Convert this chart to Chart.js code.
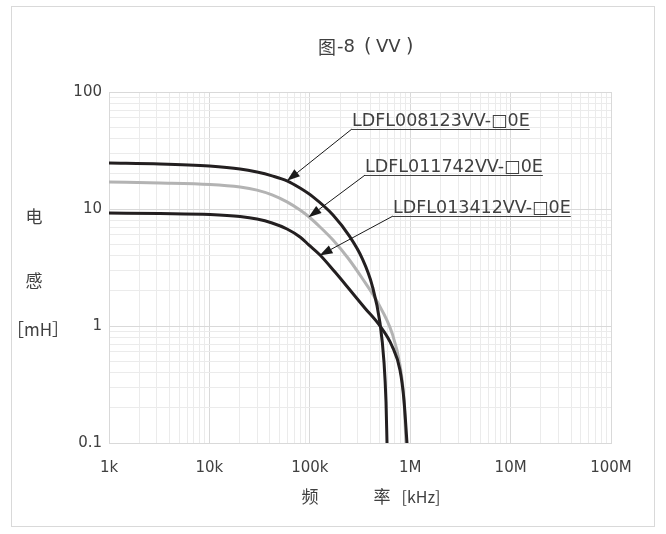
<!DOCTYPE html>
<html>
<head>
<meta charset="utf-8">
<script src="https://cdn.jsdelivr.net/npm/chart.js@4.4.1/dist/chart.umd.min.js"></script>
<style>
  html, body { margin: 0; padding: 0; background: #fff; }
  #wrap { width: 666px; height: 534px; position: relative; }
</style>
</head>
<body>
<div id="wrap"><canvas id="chart" width="666" height="534"></canvas></div>
<script>
// decade ticks
const freqDecades = [1e3, 1e4, 1e5, 1e6, 1e7, 1e8];
const freqLabels = ["1k", "10k", "100k", "1M", "10M", "100M"];
const indDecades = [0.1, 1, 10, 100];
const indLabels = ["0.1", "1", "10", "100"];

// LDFL008123VV
const freqA = [1000, 3220, 10000, 20200, 29800, 42100, 59300, 79900, 107600, 170300, 251300, 331300, 416900, 500300, 548300, 574200, 587500];
const indA = [24.7, 24.3, 23.3, 22.0, 20.7, 19.2, 17.4, 15.1, 12.7, 8.89, 5.77, 3.81, 2.24, 1.06, 0.492, 0.224, 0.1];
// LDFL011742VV
const freqB = [1000, 3220, 10140, 20200, 29800, 42100, 59300, 79900, 95900, 126400, 170300, 239900, 331300, 477800, 659000, 790700, 867000, 907800];
const indB = [17.0, 16.7, 16.2, 15.4, 14.5, 13.2, 11.5, 9.8, 8.71, 7.02, 5.43, 3.81, 2.57, 1.57, 0.871, 0.464, 0.233, 0.1];
// LDFL013412VV
const freqC = [1000, 3220, 10140, 20200, 29800, 42100, 59300, 79900, 98200, 126400, 178300, 251300, 354800, 500300, 659000, 790700, 867000, 929000];
const indC = [9.24, 9.15, 8.98, 8.63, 8.21, 7.59, 6.75, 5.77, 4.92, 4.05, 2.89, 2.03, 1.42, 1.0, 0.675, 0.42, 0.233, 0.1];

const seriesNames = ["LDFL008123VV-\u25A10E", "LDFL011742VV-\u25A10E", "LDFL013412VV-\u25A10E"];
// callouts: label anchor (freq, L) and arrow tip (freq, L)
const calloutFrom = [[263000, 48.3], [355000, 19.5], [674000, 8.71]];
const calloutTip = [[59300, 17.4], [97000, 8.5], [125000, 4.0]];

const textColor = "#404040";
const tickColor = "#404040";

function pts(xs, ys) {
  return xs.map((x, i) => ({ x: x, y: ys[i] }));
}

function minorTicks(decades) {
  const out = [];
  for (let i = 0; i < decades.length; i++) {
    const d = decades[i];
    if (i === decades.length - 1) { out.push({ value: d }); break; }
    for (let m = 1; m <= 9; m++) out.push({ value: +(m * d).toPrecision(6) });
  }
  return out;
}

function isDecade(v, decades) {
  return decades.some((d) => Math.abs(d - v) / d < 1e-6);
}

const decorPlugin = {
  id: "decor",
  beforeDraw(chart) {
    const ctx = chart.ctx;
    ctx.save();
    ctx.fillStyle = "#fff";
    ctx.fillRect(0, 0, chart.width, chart.height);
    ctx.strokeStyle = "#d9d9d9";
    ctx.lineWidth = 1;
    ctx.strokeRect(11.5, 6.5, 643, 520);
    ctx.restore();
  },
  afterDraw(chart) {
    const ctx = chart.ctx;
    const xs = chart.scales.x;
    const ys = chart.scales.y;
    ctx.save();
    // title, drawn piece by piece to get the wide brackets
    ctx.fillStyle = textColor;
    ctx.textBaseline = "middle";
    ctx.textAlign = "left";
    ctx.font = '18px "Noto Sans CJK SC", sans-serif';
    ctx.fillText("图", 318, 47);
    ctx.font = '18px "DejaVu Sans", sans-serif';
    ctx.fillText("-8", 337, 47);
    ctx.font = '19px "DejaVu Sans", sans-serif';
    ctx.fillText("(", 364, 47);
    ctx.font = '18px "DejaVu Sans", sans-serif';
    ctx.fillText("VV", 376, 47);
    ctx.font = '19px "DejaVu Sans", sans-serif';
    ctx.fillText(")", 406, 47);
    // axis titles
    ctx.textAlign = "center";
    ctx.font = '17px "Noto Sans CJK SC", sans-serif';
    ctx.fillText("电", 34, 217);
    ctx.fillText("感", 34, 281);
    ctx.fillText("［mH］", 38, 330);
    ctx.fillText("频", 310, 497);
    ctx.fillText("率", 382, 497);
    ctx.font = '16px "Noto Sans CJK SC", sans-serif';
    ctx.fillText("[kHz]", 421, 497);

    // callouts
    ctx.font = '17.5px "DejaVu Sans", sans-serif';
    ctx.textAlign = "left";
    ctx.textBaseline = "alphabetic";
    for (let i = 0; i < seriesNames.length; i++) {
      const fx = xs.getPixelForValue(calloutFrom[i][0]);
      const fy = ys.getPixelForValue(calloutFrom[i][1]);
      const tx = xs.getPixelForValue(calloutTip[i][0]);
      const ty = ys.getPixelForValue(calloutTip[i][1]);
      const w = ctx.measureText(seriesNames[i]).width;
      ctx.fillStyle = textColor;
      ctx.fillText(seriesNames[i], fx, fy - 3);
      ctx.strokeStyle = textColor;
      ctx.lineWidth = 1;
      ctx.beginPath();
      ctx.moveTo(fx, Math.round(fy) + 0.5);
      ctx.lineTo(fx + w, Math.round(fy) + 0.5);
      ctx.stroke();
      // arrow
      const ang = Math.atan2(ty - fy, tx - fx);
      const hl = 13, hw = 4.5;
      const bx = tx - hl * Math.cos(ang), by = ty - hl * Math.sin(ang);
      ctx.strokeStyle = "#1a1a1a";
      ctx.beginPath();
      ctx.moveTo(fx, fy);
      ctx.lineTo(bx, by);
      ctx.stroke();
      ctx.fillStyle = "#1a1a1a";
      ctx.beginPath();
      ctx.moveTo(tx, ty);
      ctx.lineTo(bx + hw * Math.sin(ang), by - hw * Math.cos(ang));
      ctx.lineTo(bx - hw * Math.sin(ang), by + hw * Math.cos(ang));
      ctx.closePath();
      ctx.fill();
    }
    ctx.restore();
  },
};

const lineStyle = {
  showLine: true,
  pointRadius: 0,
  borderWidth: 3,
  cubicInterpolationMode: "monotone",
  fill: false,
};

new Chart(document.getElementById("chart"), {
  type: "scatter",
  data: {
    datasets: [
      Object.assign({ label: seriesNames[0], data: pts(freqA, indA), borderColor: "#231f20", order: 1 }, lineStyle),
      Object.assign({ label: seriesNames[1], data: pts(freqB, indB), borderColor: "#b3b3b3", order: 3 }, lineStyle),
      Object.assign({ label: seriesNames[2], data: pts(freqC, indC), borderColor: "#231f20", order: 2 }, lineStyle),
    ],
  },
  options: {
    responsive: false,
    animation: false,
    layout: { padding: { top: 92, right: 55, left: 0, bottom: 0 } },
    plugins: { legend: { display: false }, tooltip: { enabled: false } },
    scales: {
      x: {
        type: "logarithmic",
        min: freqDecades[0],
        max: freqDecades[freqDecades.length - 1],
        afterBuildTicks: (s) => { s.ticks = minorTicks(freqDecades); },
        afterFit: (s) => { s.height = 91; },
        border: { color: "#d9d9d9" },
        grid: {
          drawTicks: false,
          color: (c) => (isDecade(c.tick.value, freqDecades) ? "#d9d9d9" : "#ebebeb"),
        },
        ticks: {
          autoSkip: false,
          maxRotation: 0,
          padding: 16,
          color: tickColor,
          font: { family: "DejaVu Sans", size: 15 },
          callback: (v) => {
            const i = freqDecades.findIndex((d) => Math.abs(d - v) / d < 1e-6);
            return i >= 0 ? freqLabels[i] : "";
          },
        },
      },
      y: {
        type: "logarithmic",
        min: indDecades[0],
        max: indDecades[indDecades.length - 1],
        afterBuildTicks: (s) => { s.ticks = minorTicks(indDecades); },
        afterFit: (s) => { s.width = 109; },
        border: { color: "#d9d9d9" },
        grid: {
          drawTicks: false,
          color: (c) => (isDecade(c.tick.value, indDecades) ? "#d9d9d9" : "#ebebeb"),
        },
        ticks: {
          autoSkip: false,
          padding: 7,
          color: tickColor,
          font: { family: "DejaVu Sans", size: 15 },
          callback: (v) => {
            const i = indDecades.findIndex((d) => Math.abs(d - v) / d < 1e-6);
            return i >= 0 ? indLabels[i] : "";
          },
        },
      },
    },
  },
  plugins: [decorPlugin],
});
</script>
</body>
</html>
